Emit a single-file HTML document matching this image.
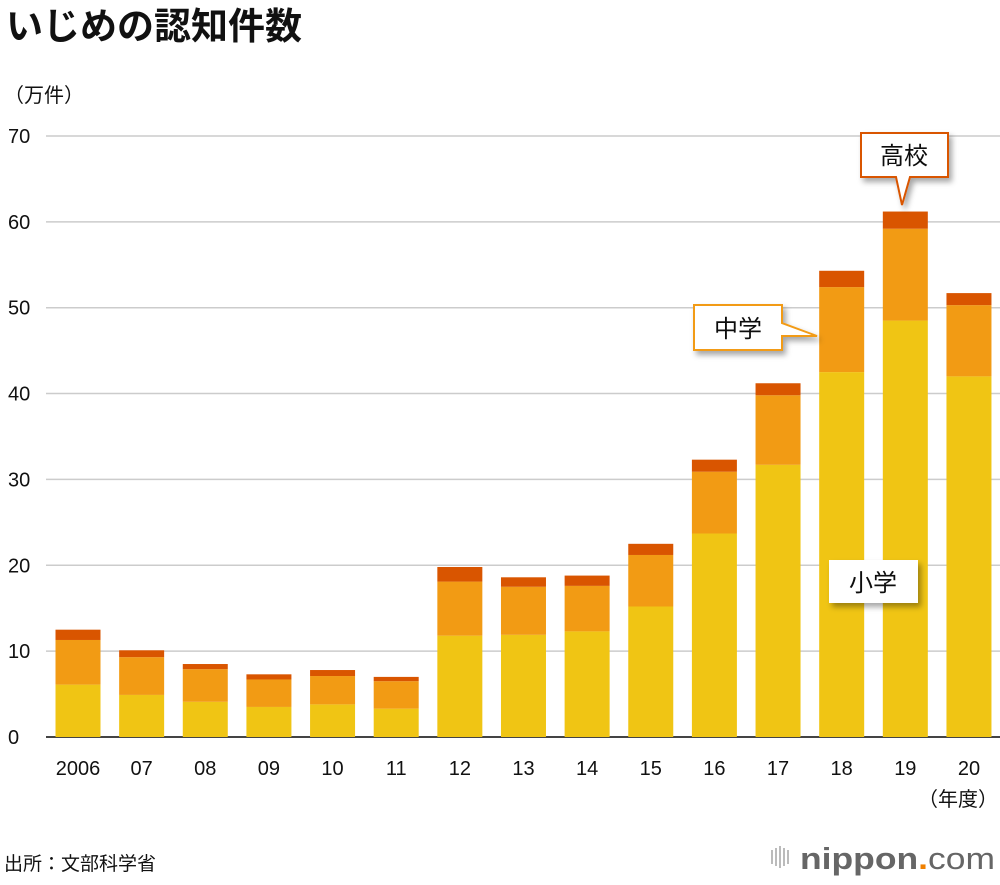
<!DOCTYPE html>
<html><head><meta charset="utf-8"><style>
body{margin:0;background:#fff;width:1000px;height:880px;overflow:hidden;font-family:"Liberation Sans","Noto Sans CJK JP",sans-serif}
</style></head><body>
<svg width="1000" height="880" xmlns="http://www.w3.org/2000/svg" font-family="Liberation Sans, Noto Sans CJK JP, sans-serif">
<defs><filter id="sh" x="-20%" y="-20%" width="150%" height="160%"><feDropShadow dx="3" dy="4" stdDeviation="3" flood-color="#000" flood-opacity="0.35"/></filter></defs>
<text x="6" y="39" font-size="37" font-weight="bold" fill="#111">いじめの認知件数</text>
<text x="4" y="102" font-size="20" fill="#111">（万件）</text>
<g id="grid"></g>
<g id="bars"></g>
<g id="xl"></g>
<text x="918" y="806" font-size="20" fill="#111">（年度）</text>
<g filter="url(#sh)">
<path d="M861,133 H948 V177 H910 L902,205 L896,177 H861 Z" fill="#fff" stroke="#d95500" stroke-width="2"/>
<text x="904" y="164" font-size="24" text-anchor="middle" fill="#111">高校</text></g>
<g filter="url(#sh)">
<path d="M694,305 H782 V323 L817,336 L782,336 V350 H694 Z" fill="#fff" stroke="#f29b14" stroke-width="2"/>
<text x="738" y="337" font-size="24" text-anchor="middle" fill="#111">中学</text></g>
<g filter="url(#sh)">
<rect x="829" y="560" width="89" height="43" fill="#fff"/>
<text x="873" y="591" font-size="24" text-anchor="middle" fill="#111">小学</text></g>
<text x="4" y="870" font-size="19" fill="#111">出所：文部科学省</text>
<g>
<g fill="#bbb"><rect x="771" y="850" width="2" height="14"/><rect x="775" y="848" width="2" height="18"/><rect x="779" y="846" width="2" height="22"/><rect x="783" y="848" width="2" height="18"/><rect x="787" y="850" width="2" height="14"/></g>
<text x="800" y="869" font-size="31" fill="#666" textLength="195" lengthAdjust="spacingAndGlyphs"><tspan font-weight="bold">nippon</tspan><tspan fill="#f08000" font-weight="bold">.</tspan><tspan>com</tspan></text></g>
<script>
const years=["2006","07","08","09","10","11","12","13","14","15","16","17","18","19","20"];
const elementary=[6.1,4.9,4.1,3.5,3.8,3.3,11.8,11.9,12.3,15.2,23.7,31.7,42.5,48.5,42.0];
const middle=[5.2,4.4,3.8,3.2,3.3,3.2,6.3,5.6,5.3,6.0,7.2,8.1,9.9,10.7,8.3];
const high=[1.2,0.8,0.6,0.6,0.7,0.5,1.7,1.1,1.2,1.3,1.4,1.4,1.9,2.0,1.4];
const ticks=[0,10,20,30,40,50,60,70];
const NS="http://www.w3.org/2000/svg";
const K=8.586;
const y=v=>737-v*K, xc=i=>78+i*63.64, bw=45;
function mk(t,a,p){const e=document.createElementNS(NS,t);for(const k in a)e.setAttribute(k,a[k]);p.appendChild(e);return e;}
const g=document.getElementById('grid');
ticks.forEach(t=>{
 const l=mk('line',{x1:46,x2:1000,y1:y(t),y2:y(t),stroke:t?'#ccc':'#444','stroke-width':t?1.5:2},g);
 
 
 const tx=mk('text',{x:8,y:y(t)+7,'font-size':20,fill:'#111'},g);tx.textContent=t;
 
 
});
const b=document.getElementById('bars'),xl=document.getElementById('xl');
years.forEach((yr,i)=>{
 const segs=[[elementary[i],'#f0c514'],[middle[i],'#f29b14'],[high[i],'#d95500']];let base=0;
 segs.forEach(([v,c])=>{
  const r=mk('rect',{x:xc(i)-bw/2,y:y(base+v),width:bw,height:v*K,fill:c},b);
  
  
  base+=v;});
 const t=mk('text',{x:xc(i),y:775,'font-size':20,'text-anchor':'middle',fill:'#111'},xl);t.textContent=yr;
 
 
});
</script>
</svg></body></html>
